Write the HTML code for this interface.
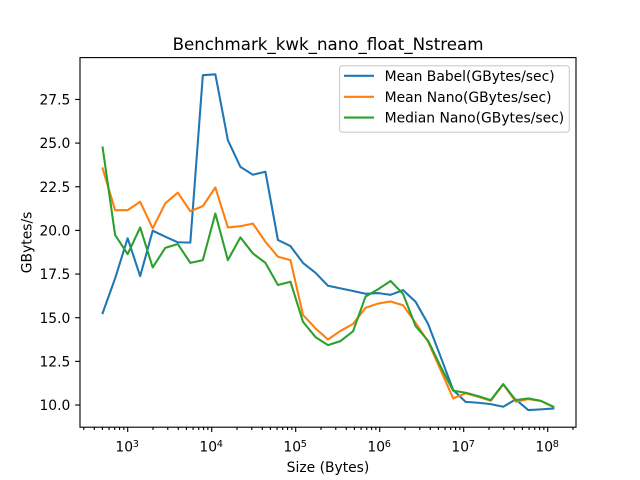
<!DOCTYPE html>
<html>
<head>
<meta charset="utf-8">
<style>
html,body{margin:0;padding:0;background:#fff;}
svg{display:block;}
text{font-family:"DejaVu Sans","Liberation Sans",sans-serif;fill:#000;}
</style>
</head>
<body>
<svg id="chart" xmlns="http://www.w3.org/2000/svg" width="640" height="480" viewBox="0 0 640 480">
  <rect x="0" y="0" width="640" height="480" fill="#ffffff"/>
  <g id="series"></g>
  <g id="ticks"></g>
  <rect x="80" y="57.6" width="496" height="369.6" fill="none" stroke="#000" stroke-width="1.11"/>
  <text x="328" y="50" text-anchor="middle" font-size="16.67">Benchmark_kwk_nano_float_Nstream</text>
  <text x="328" y="472" text-anchor="middle" font-size="13.89">Size (Bytes)</text>
  <text transform="translate(31.5 242.4) rotate(-90)" text-anchor="middle" font-size="13.89">GBytes/s</text>
  <g>
    <rect x="339.5" y="65.8" width="229.8" height="66.4" rx="2.8" fill="#ffffff" fill-opacity="0.8" stroke="#cccccc" stroke-width="1.11"/>
    <line x1="344" x2="374" y1="75.8" y2="75.8" stroke="#1f77b4" stroke-width="2.08"/>
    <text x="384.6" y="80.9" font-size="13.89">Mean Babel(GBytes/sec)</text>
    <line x1="344" x2="374" y1="96.8" y2="96.8" stroke="#ff7f0e" stroke-width="2.08"/>
    <text x="384.6" y="101.9" font-size="13.89">Mean Nano(GBytes/sec)</text>
    <line x1="344" x2="374" y1="117.6" y2="117.6" stroke="#2ca02c" stroke-width="2.08"/>
    <text x="384.6" y="122.7" font-size="13.89">Median Nano(GBytes/sec)</text>
  </g>
</svg>
<script>
const sizes = [503,708,999,1408,1984,2802,3949,5565,7844,11054,15578,21954,30940,43602,61449,86599,122050,171990,242390,341600,481400,678440,956090,1347400,1899000,2676100,3771400,5314900,7490300,10556000,14876000,20965000,29547000,41640000,58684000,82701000,116550000];
const meanBabel = [15.26,17.25,19.55,17.38,19.98,19.64,19.32,19.3,28.89,28.94,25.17,23.64,23.19,23.36,19.45,19.1,18.14,17.57,16.83,16.68,16.53,16.37,16.41,16.31,16.58,15.91,14.64,12.76,10.86,10.18,10.13,10.05,9.9,10.32,9.71,9.75,9.8];
const meanNano = [23.55,21.16,21.16,21.64,20.11,21.55,22.16,21.1,21.39,22.46,20.17,20.24,20.39,19.35,18.49,18.3,15.16,14.39,13.75,14.25,14.64,15.57,15.81,15.93,15.71,14.7,13.62,12.01,10.38,10.67,10.47,10.24,11.18,10.19,10.34,10.23,9.9];
const medianNano = [24.75,19.74,18.64,20.17,17.88,19.0,19.22,18.14,18.3,20.97,18.3,19.6,18.68,18.14,16.87,17.06,14.77,13.89,13.43,13.66,14.22,16.21,16.63,17.1,16.36,14.52,13.68,12.2,10.82,10.7,10.51,10.28,11.2,10.28,10.38,10.24,9.9];
const yTicks = [10,12.5,15,17.5,20,22.5,25,27.5];
const yTickLabels = ["10.0","12.5","15.0","17.5","20.0","22.5","25.0","27.5"];
const xDecades = [3,4,5,6,7,8];
const xMinorDecades = [2,3,4,5,6,7,8];
const xMinorMultiples = [2,3,4,5,6,7,8,9];

const NS = 'http://www.w3.org/2000/svg';
function xScale(v){ return 127.7 + 84 * (Math.log10(v) - 3); }
function yScale(v){ return 405 - 17.46 * (v - 10); }

const seriesGroup = document.getElementById('series');
const ticksGroup = document.getElementById('ticks');

function drawSeries(values, color, name){
  const line = document.createElementNS(NS, 'polyline');
  line.setAttribute('points', values.map((v, i) => xScale(sizes[i]).toFixed(2) + ',' + yScale(v).toFixed(2)).join(' '));
  line.setAttribute('fill', 'none');
  line.setAttribute('stroke', color);
  line.setAttribute('stroke-width', '2.08');
  line.setAttribute('stroke-linejoin', 'round');
  line.setAttribute('stroke-linecap', 'square');
  
  
  seriesGroup.appendChild(line);
}
drawSeries(meanBabel, '#1f77b4', 'series-mean-babel');
drawSeries(meanNano, '#ff7f0e', 'series-mean-nano');
drawSeries(medianNano, '#2ca02c', 'series-median-nano');

function drawTick(x1, y1, x2, y2, name){
  const t = document.createElementNS(NS, 'line');
  t.setAttribute('x1', x1);
  t.setAttribute('y1', y1);
  t.setAttribute('x2', x2);
  t.setAttribute('y2', y2);
  t.setAttribute('stroke', '#000');
  t.setAttribute('stroke-width', '1.11');
  
  
  ticksGroup.appendChild(t);
}

yTicks.forEach((v, i) => {
  const y = yScale(v);
  drawTick(75.14, y, 80, y, 'y-tick');
  const label = document.createElementNS(NS, 'text');
  label.setAttribute('x', '70.4');
  label.setAttribute('y', (y + 5.1).toFixed(2));
  label.setAttribute('text-anchor', 'end');
  label.setAttribute('font-size', '13.89');
  
  
  label.textContent = yTickLabels[i];
  ticksGroup.appendChild(label);
});

xDecades.forEach(d => {
  const x = xScale(Math.pow(10, d));
  drawTick(x, 427.2, x, 432.06, 'x-major-tick');
  const label = document.createElementNS(NS, 'text');
  label.setAttribute('x', (x - 12.3).toFixed(2));
  label.setAttribute('y', '451.5');
  label.setAttribute('font-size', '13.89');
  
  
  label.textContent = '10';
  ticksGroup.appendChild(label);
  const exponent = document.createElementNS(NS, 'text');
  exponent.setAttribute('x', (x + 5.0).toFixed(2));
  exponent.setAttribute('y', '447');
  exponent.setAttribute('font-size', '9.72');
  
  
  exponent.textContent = String(d);
  ticksGroup.appendChild(exponent);
});

xMinorDecades.forEach(d => {
  xMinorMultiples.forEach(m => {
    const x = xScale(m * Math.pow(10, d));
    if (x < 80 || x > 576) return;
    drawTick(x, 427.2, x, 429.98, 'x-minor-tick');
  });
});
</script>
</body>
</html>
